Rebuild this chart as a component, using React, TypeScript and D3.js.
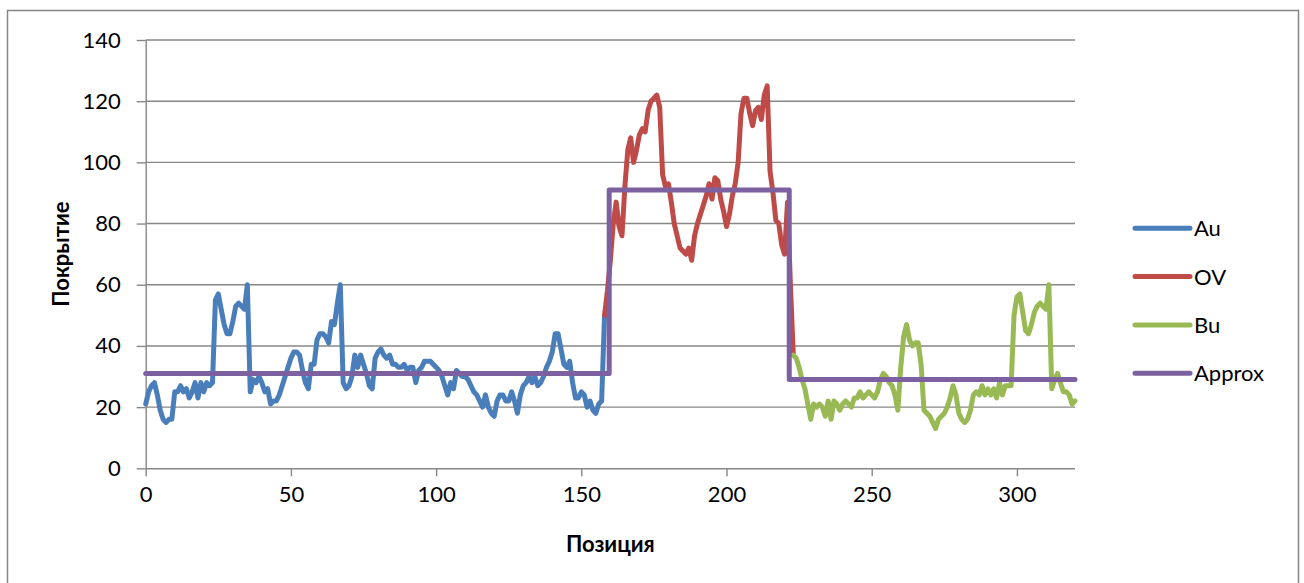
import React, { useEffect, useRef } from "react";
import * as d3 from "d3";

// coverage per position
const auStart = 0;
const auValues = [
  21, 25, 27, 28, 24, 19, 16, 15, 16, 16,
  25, 25, 27, 25, 26, 23, 25, 28, 23, 28,
  25, 28, 27, 28, 55, 57, 52, 47, 44, 44,
  48, 53, 54, 53, 52, 60, 25, 29, 28, 30,
  28, 25, 26, 21, 22, 22, 24, 27, 30, 33,
  36, 38, 38, 37, 32, 28, 26, 34, 34, 42,
  44, 44, 43, 41, 48, 47, 54, 60, 28, 26,
  27, 30, 37, 33, 37, 34, 31, 27, 26, 36,
  38, 39, 37, 36, 37, 34, 34, 33, 33, 34,
  32, 33, 33, 28, 32, 33, 35, 35, 35, 34,
  33, 32, 30, 27, 24, 28, 26, 32, 31, 30,
  30, 29, 27, 25, 24, 22, 20, 24, 20, 18,
  17, 22, 24, 24, 22, 22, 25, 22, 18, 24,
  27, 28, 30, 28, 30, 27, 28, 30, 33, 35,
  38, 44, 44, 39, 34, 33, 35, 28, 23, 23,
  25, 24, 20, 22, 19, 18, 21, 22, 50,
];

const ovStart = 158;
const ovValues = [
  50, 58, 68, 80, 87, 79, 76, 92, 104, 108,
  100, 104, 109, 111, 110, 117, 120, 121, 122, 118,
  96, 92, 93, 87, 80, 76, 72, 71, 70, 72,
  68, 76, 80, 83, 86, 89, 93, 88, 95, 94,
  88, 84, 79, 83, 89, 93, 100, 116, 121, 121,
  116, 112, 117, 118, 114, 122, 125, 97, 90, 81,
  80, 73, 70, 87, 60, 37,
];

const buStart = 223;
const buValues = [
  37, 36, 33, 29, 26, 21, 16, 21, 20, 21,
  20, 17, 22, 16, 22, 21, 19, 21, 22, 21,
  20, 23, 23, 25, 23, 24, 25, 24, 23, 25,
  29, 31, 30, 28, 27, 24, 19, 33, 43, 47,
  42, 40, 41, 41, 34, 19, 18, 17, 15, 13,
  16, 17, 18, 20, 23, 27, 24, 18, 16, 15,
  16, 19, 24, 25, 24, 27, 24, 26, 24, 26,
  23, 28, 24, 27, 27, 27, 50, 56, 57, 51,
  45, 44, 47, 51, 53, 54, 53, 52, 60, 26,
  29, 31, 28, 25, 25, 24, 21, 22,
];

const approxX = [0, 159.6, 159.6, 221.6, 221.6, 320];
const approxY = [31, 31, 91, 91, 29, 29];

const xTicks = [0, 50, 100, 150, 200, 250, 300];
const yTicks = [0, 20, 40, 60, 80, 100, 120, 140];
const seriesNames = ["Au", "OV", "Bu", "Approx"];
const colors = ["#4A7EBB", "#BE4B48", "#98B954", "#7D60A0"];

const font = "Lato, 'Noto Sans', sans-serif";

export default function App() {
  const svgRef = useRef<SVGSVGElement>(null);

  useEffect(() => {
    const w = 1304;
    const h = 583;
    const left = 145.7;
    const right = 1075;
    const top = 40;
    const bottom = 468.3;

    const svg = d3.select(svgRef.current);
    svg.selectAll("*").remove();
    svg.attr("width", w).attr("height", h);

    // chart border
    svg
      .append("rect")
      .attr("x", 7.5)
      .attr("y", 10.5)
      .attr("width", 1291)
      .attr("height", 600)
      .attr("fill", "white")
      .attr("stroke", "#868686")
      .attr("stroke-width", 1.5);

    const xScale = d3.scaleLinear().domain([0, 320]).range([left, right]);
    const yScale = d3.scaleLinear().domain([0, 140]).range([bottom, top]);

    // gridlines
    svg
      .append("g")
      .selectAll("line")
      .data(yTicks.filter((t) => t > 0))
      .enter()
      .append("line")
      .attr("x1", left)
      .attr("x2", right)
      .attr("y1", (d) => yScale(d))
      .attr("y2", (d) => yScale(d))
      .attr("stroke", "#878787")
      .attr("stroke-width", 1.4);

    //axes
    const xAxis = d3.axisBottom(xScale).tickValues(xTicks).tickSize(8).tickPadding(10);
    const yAxis = d3.axisLeft(yScale).tickValues(yTicks).tickSize(9).tickPadding(16);

    const gx = svg.append("g").attr("transform", `translate(0, ${bottom})`).call(xAxis);
    const gy = svg.append("g").attr("transform", `translate(${left}, 0)`).call(yAxis);

    [gx, gy].forEach((g) => {
      g.select(".domain").attr("stroke", "#878787").attr("stroke-width", 1.4);
      g.selectAll(".tick line").attr("stroke", "#878787").attr("stroke-width", 1.4);
      g.selectAll(".tick text")
        .attr("fill", "#000")
        .style("font-family", font)
        .style("font-size", "22px");
    });
    gx.select(".domain").attr("d", `M${left},0.5H${right}`);
    gy.select(".domain").attr("d", `M0.5,${bottom}V${top}`);

    // series
    const line = d3
      .line<[number, number]>()
      .x((d) => xScale(d[0]))
      .y((d) => yScale(d[1]));

    const series: [number, number][][] = [
      auValues.map((v, i) => [auStart + i, v]),
      ovValues.map((v, i) => [ovStart + i, v]),
      buValues.map((v, i) => [buStart + i, v]),
      approxX.map((x, i) => [x, approxY[i]]),
    ];

    svg
      .append("g")
      .selectAll(".line")
      .data(series)
      .enter()
      .append("path")
      .attr("class", "line")
      .attr("fill", "none")
      .attr("stroke", (d, i) => colors[i])
      .attr("stroke-width", 5)
      .attr("stroke-linejoin", "round")
      .attr("stroke-linecap", "round")
      .attr("d", line);

    // axis titles
    svg
      .append("text")
      .attr("x", (left + right) / 2)
      .attr("y", 552)
      .attr("text-anchor", "middle")
      .style("font-family", font)
      .style("font-size", "22px")
      .style("font-weight", "bold")
      .text("Позиция");

    svg
      .append("text")
      .attr("transform", `translate(69, ${(top + bottom) / 2}) rotate(-90)`)
      .attr("text-anchor", "middle")
      .style("font-family", font)
      .style("font-size", "22px")
      .style("font-weight", "bold")
      .text("Покрытие");

    // legend
    const legend = svg
      .append("g")
      .selectAll("g")
      .data(seriesNames)
      .enter()
      .append("g")
      .attr("transform", (d, i) => `translate(1135, ${228.3 + i * 48.3})`);

    legend
      .append("line")
      .attr("x1", 0)
      .attr("x2", 55)
      .attr("stroke", (d, i) => colors[i])
      .attr("stroke-width", 5)
      .attr("stroke-linecap", "round");

    legend
      .append("text")
      .attr("x", 59)
      .attr("dy", "0.36em")
      .style("font-family", font)
      .style("font-size", "22px")
      .text((d) => d);
  }, []);

  return (
    <svg
      ref={svgRef}
      style={{ position: "absolute", left: 0, top: 0, display: "block" }}
    ></svg>
  );
}
